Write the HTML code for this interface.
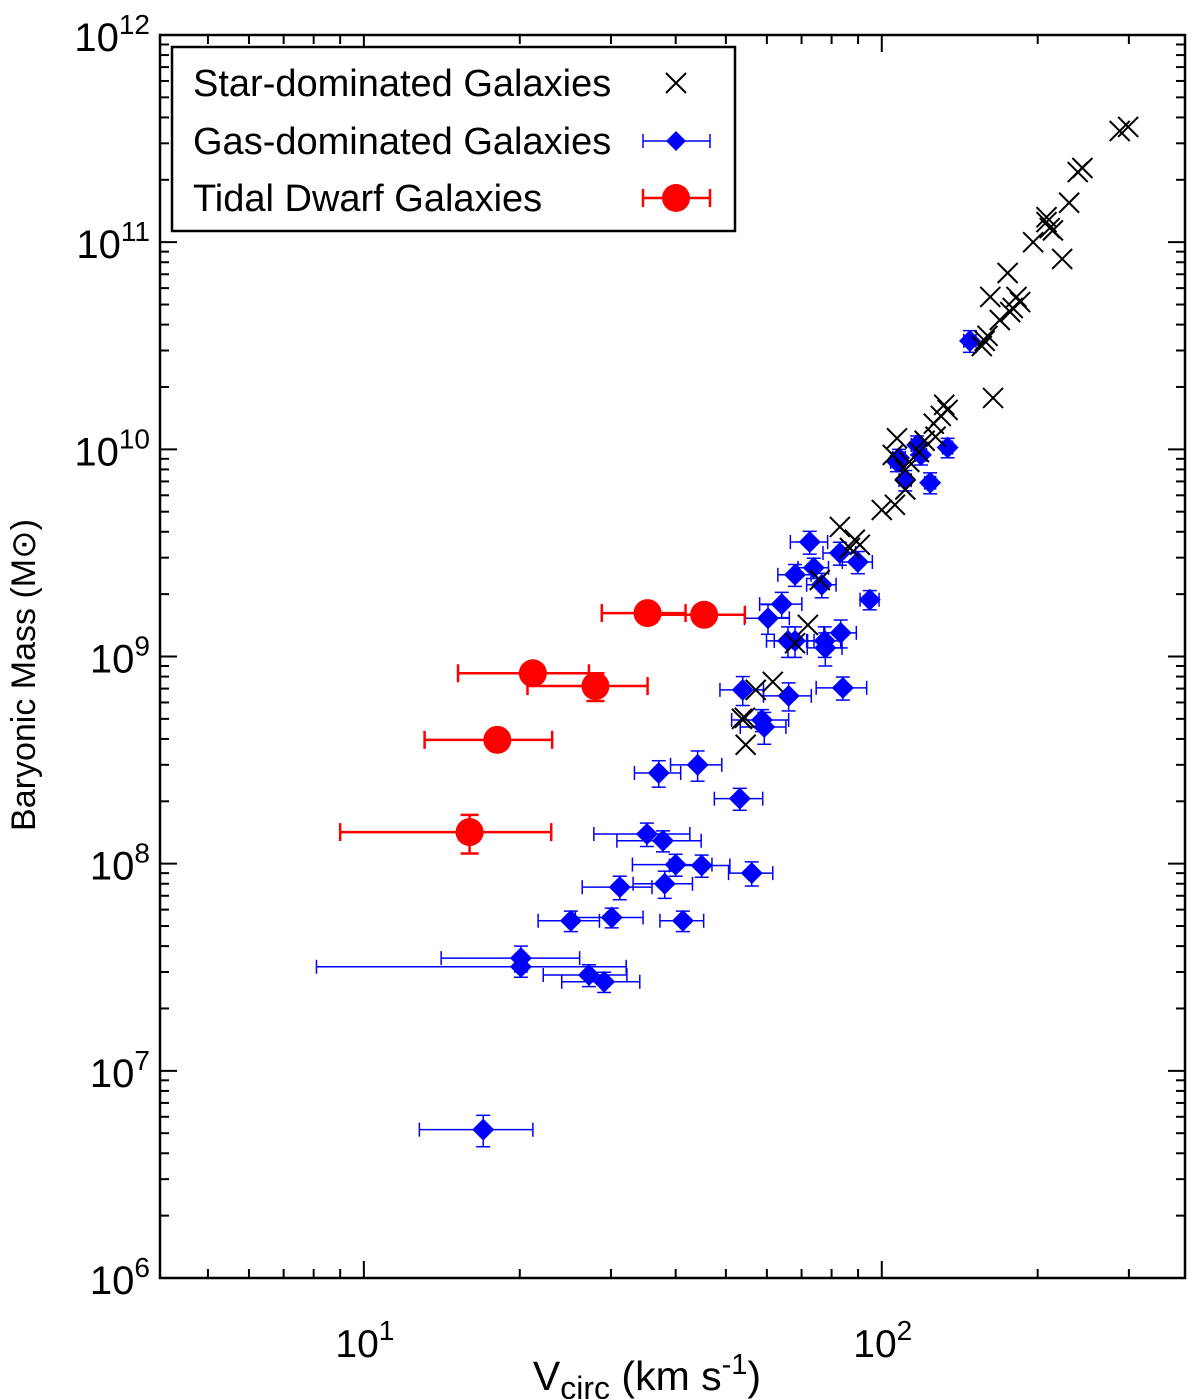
<!DOCTYPE html>
<html><head><meta charset="utf-8"><style>
html,body{margin:0;padding:0;background:#fff;}
svg{display:block;font-family:"Liberation Sans",Arial,sans-serif;}
</style></head><body>
<svg id="chart" width="1200" height="1399" viewBox="0 0 1200 1399" xmlns="http://www.w3.org/2000/svg">
<g id="grid"></g>
<g id="marks"></g>
<rect x="160" y="35" width="1025" height="1243" fill="none" stroke="#000" stroke-width="2.5"/>
<text x="647" y="1390" font-size="41" text-anchor="middle">V<tspan font-size="32" dy="9">circ</tspan><tspan dy="-9"> (km s</tspan><tspan font-size="29" dy="-16">-1</tspan><tspan dy="16">)</tspan></text>
<text transform="translate(35,675) rotate(-90)" font-size="34" text-anchor="middle">Baryonic Mass (M⊙)</text>
<g>
<rect x="172" y="47" width="563" height="184" fill="#fff" stroke="#000" stroke-width="2.5"/>
<text x="193" y="96" font-size="38">Star-dominated Galaxies</text>
<text x="193" y="154" font-size="38">Gas-dominated Galaxies</text>
<text x="193" y="211" font-size="38">Tidal Dwarf Galaxies</text>
<g id="legend-marks"></g>
</g>
</svg>
<script>
// Star-dominated galaxies
const starV = [299,288,244,239,230,208,208,211,214,223,196,175,162,185,179,182,177,169,160,158,156,164,132,134,130,126,127,121,118,113,111,107,105,111,106,100,83,88.7,86.8,75.9,90.7,72,68,61.6,57.1,54.4,53.7,54.6];
const starM = [3.6e11,3.44e11,2.28e11,2.18e11,1.55e11,1.32e11,1.25e11,1.17e11,1.14e11,8.3e10,1.0e11,7.1e10,5.44e10,5.14e10,4.81e10,5.44e10,4.6e10,4.21e10,3.53e10,3.34e10,3.15e10,1.77e10,1.64e10,1.55e10,1.45e10,1.33e10,1.15e10,1.1e10,9.7e9,8.7e9,7.95e9,1.13e10,9.4e9,6.4e9,5.4e9,5.1e9,4.22e9,3.66e9,3.34e9,2.34e9,3.46e9,1.42e9,1.16e9,7.55e8,6.9e8,5.06e8,5.0e8,3.75e8];
// Gas-dominated galaxies
const gasV = [17.0,20.1,20.1,27.2,29.1,25.1,30.1,31.2,41.3,35.2,37.8,38.1,40.0,44.9,56.1,37.1,44.1,53.2,53.9,58.7,59.3,66.1,60.3,64.1,68,65.9,72.6,68,73.9,76.6,83,89.9,77.6,83.3,77.8,84.1,94.8,148,107,108,111,117,119,124,134];
const gasVErr = [4.2,12,6,5,5,3.4,4.5,4.8,4,7.4,7,5,7,6,5.5,3.8,5,5.7,5.2,7.4,6,7,6,6,6,6,6,5,5,5,6,6,6,6,6,9.4,4,4,3,3,3,3,3,3,3];
const gasM = [5.2e6,3.18e7,3.5e7,2.9e7,2.69e7,5.3e7,5.5e7,7.7e7,5.3e7,1.39e8,1.29e8,8.0e7,9.9e7,9.8e7,9.0e7,2.74e8,3.0e8,2.06e8,6.9e8,4.94e8,4.57e8,6.46e8,1.53e9,1.79e9,1.19e9,1.19e9,3.57e9,2.48e9,2.68e9,2.22e9,3.16e9,2.86e9,1.19e9,1.3e9,1.1e9,7.06e8,1.88e9,3.34e10,8.7e9,9.1e9,7.1e9,1.05e10,9.4e9,6.9e9,1.02e10];
const gasMErr = [0.9e6,0.35e7,0.5e7,0.35e7,0.3e7,0.6e7,0.6e7,1.0e7,0.6e7,0.18e8,0.15e8,0.12e8,0.12e8,0.12e8,1.2e7,0.4e8,0.5e8,0.25e8,1.1e8,0.6e8,0.8e8,1.0e8,0.25e9,0.25e9,0.2e9,0.2e9,0.45e9,0.3e9,0.3e9,0.3e9,0.4e9,0.35e9,0.2e9,0.2e9,0.2e9,0.9e8,0.2e9,0.4e10,0.9e9,0.9e9,0.8e9,1.1e9,1.0e9,0.8e9,1.1e9];
// Tidal dwarf galaxies
const tdgV = [16.0,18.1,21.2,28.0,35.3,45.4];
const tdgVErr = [7,5,6,7.3,6.5,9];
const tdgM = [1.42e8,3.96e8,8.3e8,7.2e8,1.62e9,1.59e9];
const tdgMErr = [0.3e8,0.3e8,0.7e8,1.1e8,0.12e9,0.12e9];
// axis ticks
const xTickVals = [10,100];
const xTickExps = ["1","2"];
const yTickVals = [1e6,1e7,1e8,1e9,1e10,1e11,1e12];
const yTickExps = ["6","7","8","9","10","11","12"];

const NS='http://www.w3.org/2000/svg';
const X0=160,X1=1185,Y0=35,Y1=1278;
const xLogMin=Math.log10(4.04), xLogMax=Math.log10(385);
const yLogMin=6, yLogMax=12;
function sx(v){return X0+(Math.log10(v)-xLogMin)/(xLogMax-xLogMin)*(X1-X0);}
function sy(m){return Y1-(Math.log10(m)-yLogMin)/(yLogMax-yLogMin)*(Y1-Y0);}
function mk(tag,attrs,parent){const e=document.createElementNS(NS,tag);for(const k in attrs)e.setAttribute(k,attrs[k]);parent.appendChild(e);return e;}
const grid=document.getElementById('grid'), marks=document.getElementById('marks');

for(let d=0; d<3; d++){
  const base=[1,10,100,1000][d];
  for(let k=1;k<=9;k++){
    const v=base*k; if(v<4.04||v>385)continue;
    const x=sx(v); const L=(k===1)?17:9;
    const t1=mk('line',{x1:x,y1:Y1,x2:x,y2:Y1-L,stroke:'#000','stroke-width':2},grid);
    
    
    const t2=mk('line',{x1:x,y1:Y0,x2:x,y2:Y0+L,stroke:'#000','stroke-width':2},grid);
    
    
  }
}
xTickVals.forEach((v,i)=>{
  const t=mk('text',{x:sx(v)+1,y:1357,'font-size':39,'text-anchor':'middle'},grid);
  
  
  t.textContent='10';
  const s=mk('tspan',{'font-size':28,dy:-17},t); s.textContent=xTickExps[i];
});
for(let e=6;e<=12;e++){
  for(let k=1;k<=9;k++){
    if(e===12&&k>1)continue;
    const y=sy(k*Math.pow(10,e)); const L=(k===1)?17:9;
    const t1=mk('line',{x1:X0,y1:y,x2:X0+L,y2:y,stroke:'#000','stroke-width':2},grid);
    
    
    const t2=mk('line',{x1:X1,y1:y,x2:X1-L,y2:y,stroke:'#000','stroke-width':2},grid);
    
    
  }
}
yTickVals.forEach((v,i)=>{
  const t=mk('text',{x:150,y:sy(v)+16,'font-size':40,'text-anchor':'end'},grid);
  
  
  t.textContent='10';
  const s=mk('tspan',{'font-size':28,dy:-17},t); s.textContent=yTickExps[i];
});

function errbar(g,x,y,xl,xr,yt,yb,col,w,cap){
  mk('line',{x1:xl,y1:y,x2:xr,y2:y,stroke:col,'stroke-width':w},g);
  mk('line',{x1:xl,y1:y-cap,x2:xl,y2:y+cap,stroke:col,'stroke-width':w},g);
  mk('line',{x1:xr,y1:y-cap,x2:xr,y2:y+cap,stroke:col,'stroke-width':w},g);
  mk('line',{x1:x,y1:yt,x2:x,y2:yb,stroke:col,'stroke-width':w},g);
  mk('line',{x1:x-cap,y1:yt,x2:x+cap,y2:yt,stroke:col,'stroke-width':w},g);
  mk('line',{x1:x-cap,y1:yb,x2:x+cap,y2:yb,stroke:col,'stroke-width':w},g);
}
function cross(g,x,y,h){
  mk('path',{d:`M${x-h},${y-h}L${x+h},${y+h}M${x-h},${y+h}L${x+h},${y-h}`,stroke:'#000','stroke-width':2,fill:'none'},g);
}
function diamond(g,x,y,h){
  mk('path',{d:`M${x},${y-h}L${x+h},${y}L${x},${y+h}L${x-h},${y}Z`,fill:'#0000ff'},g);
}

gasV.forEach((v,i)=>{
  const g=mk('g',{},marks);
  
  
  const x=sx(v),y=sy(gasM[i]);
  errbar(g,x,y,sx(v-gasVErr[i]),sx(v+gasVErr[i]),sy(gasM[i]+gasMErr[i]),sy(gasM[i]-gasMErr[i]),'#0000ff',1.5,7);
  diamond(g,x,y,11);
});
starV.forEach((v,i)=>{
  const g=mk('g',{},marks);
  
  
  cross(g,sx(v),sy(starM[i]),10);
});
tdgV.forEach((v,i)=>{
  const g=mk('g',{},marks);
  
  
  const x=sx(v),y=sy(tdgM[i]);
  errbar(g,x,y,sx(v-tdgVErr[i]),sx(v+tdgVErr[i]),sy(tdgM[i]+tdgMErr[i]),sy(tdgM[i]-tdgMErr[i]),'#ff0000',2.5,9);
  mk('circle',{cx:x,cy:y,r:14,fill:'#ff0000'},g);
});

const lg=document.getElementById('legend-marks');
const l1=mk('g',{},lg);


cross(l1,676,83,10);
const l2=mk('g',{},lg);


errbar(l2,676,141,643,710,141,141,'#0000ff',1.5,7);
diamond(l2,676,141,10);
const l3=mk('g',{},lg);


errbar(l3,676,198,643,710,198,198,'#ff0000',2.5,9);
mk('circle',{cx:676,cy:198,r:14,fill:'#ff0000'},l3);
</script>
</body></html>
